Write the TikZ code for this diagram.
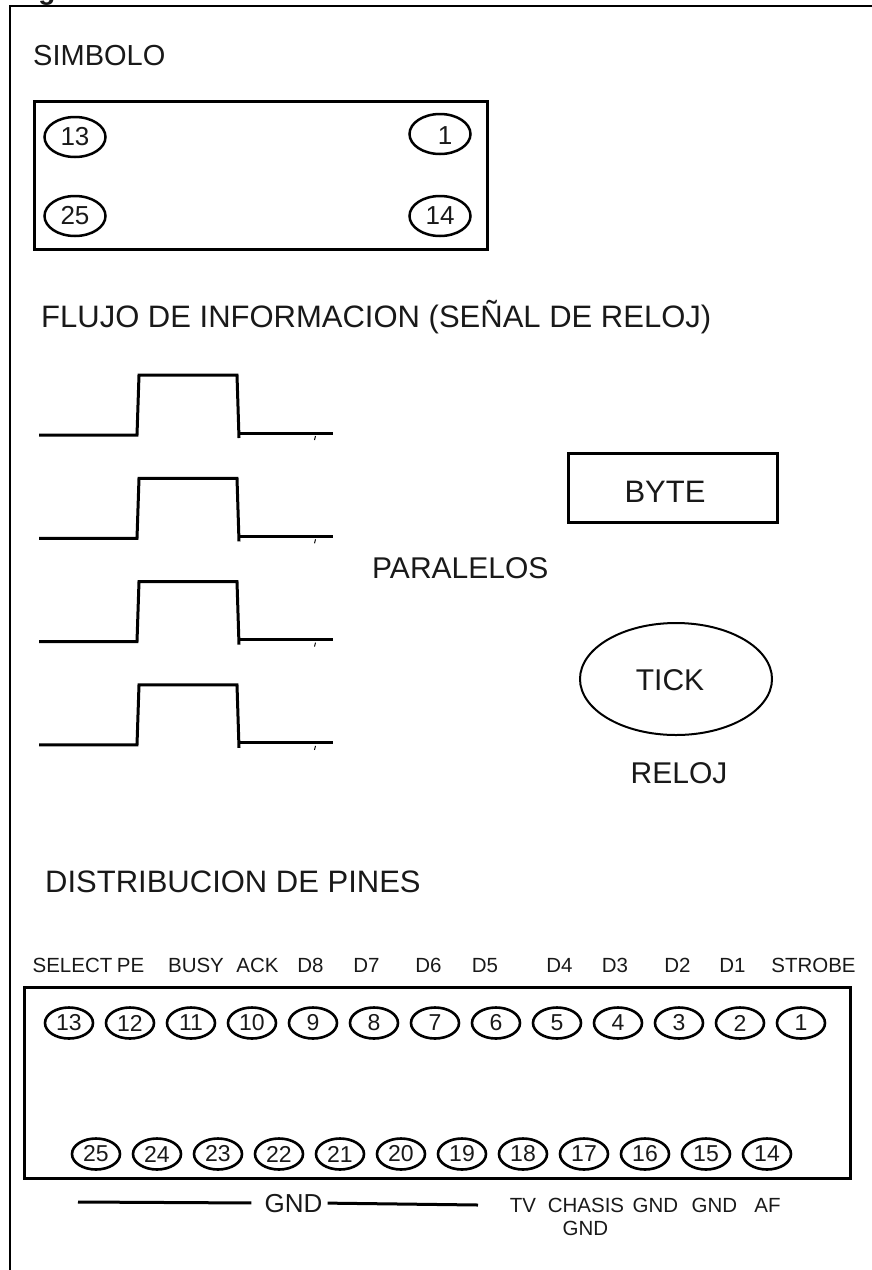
\documentclass[tikz,border=0pt]{standalone}
\usepackage{fontspec}
\setmainfont{Liberation Sans}
\usetikzlibrary{shapes.geometric}
\definecolor{textc}{gray}{0.1}
\newcommand\myfs[1]{\fontsize{#1}{#1}\selectfont}
\begin{document}
\begin{tikzpicture}[x=1pt,y=-1pt,
  txt/.style={inner sep=0pt, text=textc},
  head/.style={txt, font=\myfs{30}, anchor=base west},
  pinlab/.style={txt, font=\myfs{20.5}, anchor=base},
  bigoval/.style={draw, line width=2.5pt, ellipse, inner sep=0pt, minimum width=61pt, minimum height=40pt, text=textc, font=\myfs{26}},
  pinoval/.style={draw, line width=2.6pt, ellipse, inner sep=0pt, minimum width=48pt, minimum height=31pt, text=textc, font=\myfs{23}},
  wave/.style={line width=3pt, line join=miter},
  frame/.style={line width=2pt}
]
\useasboundingbox (0,0) rectangle (872,1270);
% cut-off glyph of a title above the picture
\begin{scope}
\clip (0,0) rectangle (872,1270);
\node[txt, font=\bfseries\myfs{28}, anchor=base] (cut) at (47,-1) {g};
\end{scope}
% frame
\coordinate (ftl) at (9.5,6);
\coordinate (ftr) at (872,6);
\coordinate (fbl) at (9.5,1270);
\draw[frame] (ftr) -- (ftl) -- (fbl);

% SIMBOLO
\node[head, font=\myfs{29}] (simb) at (33,65) {SIMBOLO};
\draw[line width=3pt] (34,101) rectangle (487,249);
\node[bigoval] (s13) at (75,137) {13};
\node[bigoval] (s1) at (440,134) {};
\node[txt, font=\myfs{26}] (s1t) at (445,135.5) {1};
\node[bigoval] (s25) at (75,216) {25};
\node[bigoval] (s14) at (440,216) {14};

% FLUJO
\node[head, font=\myfs{31}] (flujo) at (41,327) {FLUJO DE INFORMACION (SEÑAL DE RELOJ)};

% square waves
\foreach \i in {0,1,2,3}{
  \begin{scope}[yshift=-103.3*\i pt]
    \draw[wave] (39,435) -- (137,435) -- (139,375) -- (237,375) -- (239,438);
    \draw[wave] (239,433) -- (333,433);
    \draw[line width=1pt] (315.5,436) -- (314.5,440);
  \end{scope}
}
\node[head] (par) at (372,578) {PARALELOS};

% BYTE
\node[draw, line width=3pt, minimum width=209pt, minimum height=69pt, inner sep=0pt] (byte) at (672.5,487.5) {};
\node[txt, font=\myfs{31}, anchor=base] (bytet) at (665,502.5) {BYTE};
% TICK
\node[draw, line width=2pt, ellipse, minimum width=192pt, minimum height=112pt, inner sep=0pt] (tick) at (676,679) {};
\node[txt, font=\myfs{30}, anchor=base] (tickt) at (670,690) {TICK};
\node[txt, font=\myfs{30}, anchor=base] (reloj) at (679,783) {RELOJ};

% DISTRIBUCION
\node[head, font=\myfs{31}] (dist) at (45,892) {DISTRIBUCION DE PINES};

% pin labels
\node[pinlab] (lsel) at (72.5,972) {SELECT};
\node[pinlab] (lpe) at (130.5,972) {PE};
\node[pinlab] (lbusy) at (196,972) {BUSY};
\node[pinlab] (lack) at (257.5,972) {ACK};
\node[pinlab] (ld8) at (310.5,972) {D8};
\node[pinlab] (ld7) at (366.5,972) {D7};
\node[pinlab] (ld6) at (428.5,972) {D6};
\node[pinlab] (ld5) at (485,972) {D5};
\node[pinlab] (ld4) at (559.5,972) {D4};
\node[pinlab] (ld3) at (615,972) {D3};
\node[pinlab] (ld2) at (677.5,972) {D2};
\node[pinlab] (ld1) at (732.5,972) {D1};
\node[pinlab] (lstr) at (813.5,972) {STROBE};

% pin box
\draw[line width=3pt] (24,987) rectangle (850,1178);
\foreach \n in {1,...,13}{
  \node[pinoval] (p\n) at ({69+61*(13-\n)},1023) {\n};
}
\foreach \n in {14,...,25}{
  \node[pinoval] (p\n) at ({96+61*(25-\n)},1154) {\n};
}

% bottom labels
\node[txt, font=\myfs{26}, anchor=base] (gnd) at (293.5,1212) {GND};
\coordinate (gl) at (78,1202);
\coordinate (gr) at (478,1205);
\draw[line width=3pt, shorten >=13pt] (gl) -- (gnd.west);
\draw[line width=3pt, shorten <=5pt] (gnd.east) -- (gr);
\node[pinlab] (ltv) at (523,1212) {TV};
\node[pinlab] (lch) at (586,1212) {CHASIS};
\node[pinlab] (lch2) at (585.5,1235) {GND};
\node[pinlab] (lg16) at (655.5,1212) {GND};
\node[pinlab] (lg15) at (714.5,1212) {GND};
\node[pinlab] (laf) at (767.5,1212) {AF};
\end{tikzpicture}
\end{document}
